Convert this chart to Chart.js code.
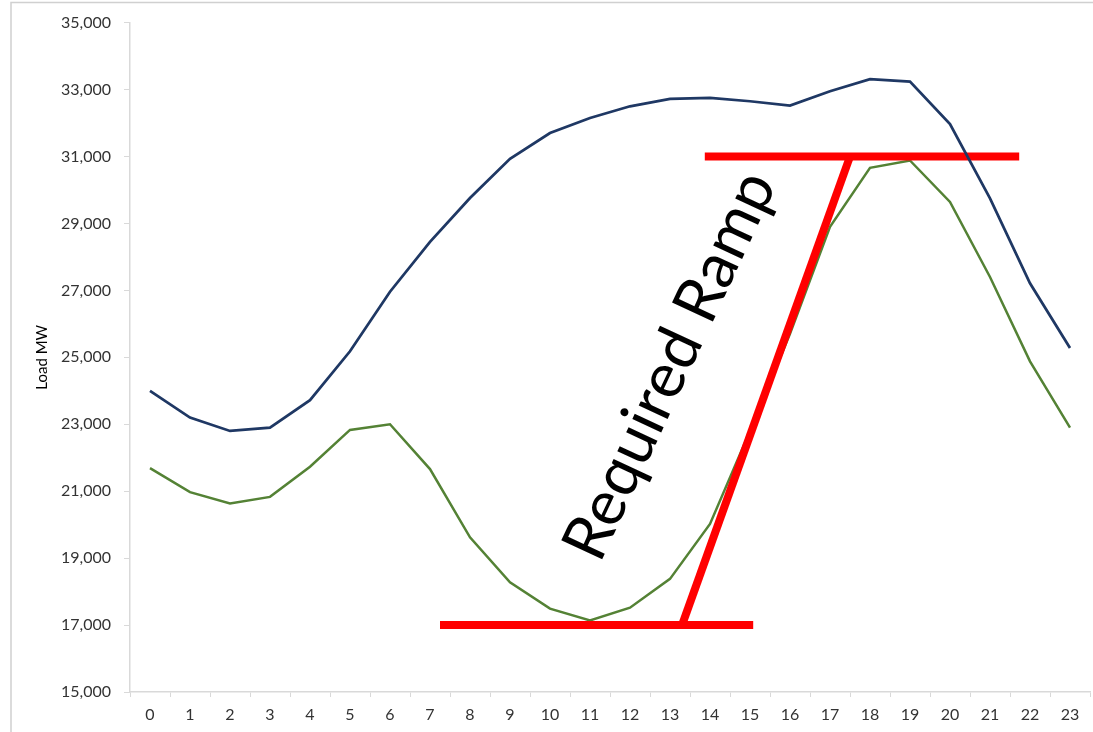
<!DOCTYPE html>
<html>
<head>
<meta charset="utf-8">
<script src="https://cdn.jsdelivr.net/npm/chart.js@4.4.1/dist/chart.umd.min.js"></script>
<style>
  html, body { margin: 0; padding: 0; background: #ffffff; overflow: hidden; }
  #wrap { width: 1093px; height: 732px; position: relative; }
</style>
</head>
<body>
<div id="wrap"><canvas id="c" width="1093" height="732"></canvas></div>
<script>
// Hour-of-day categories
const hours = ['0','1','2','3','4','5','6','7','8','9','10','11','12','13','14','15','16','17','18','19','20','21','22','23'];

// Load axis ticks (MW)
const loadTicks = [15000, 17000, 19000, 21000, 23000, 25000, 27000, 29000, 31000, 33000, 35000];

// Total system load by hour (MW)
const totalLoad = [24000, 23200, 22800, 22900, 23720, 25180, 26960, 28450, 29760, 30930, 31700, 32150,
                   32500, 32720, 32750, 32650, 32520, 32950, 33310, 33240, 31970, 29750, 27210, 25280];

// Net load by hour (MW)
const netLoad = [21690, 20970, 20630, 20830, 21730, 22830, 23000, 21660, 19620, 18280, 17490, 17140,
                 17520, 18380, 20020, 22800, 25700, 28900, 30660, 30880, 29640, 27400, 24880, 22900];

// Ramp marker: floor and ceiling levels and where each bar spans (hour positions)
const rampFloor = 17000;
const rampCeiling = 31000;
const floorSpan = [7.25, 15.08];
const ceilingSpan = [13.87, 21.73];
const rampStart = 13.3;
const rampEnd = 17.5;
const rampLabel = 'Required Ramp';
const rampLabelAt = [13.0, 24750];

const red = '#ff0000';

const frame = {
  id: 'frame',
  beforeDraw(chart) {
    const ctx = chart.ctx;
    ctx.save();
    ctx.strokeStyle = '#d0d0d0';
    ctx.lineWidth = 1.5;
    ctx.beginPath();
    ctx.moveTo(11, 732);
    ctx.lineTo(11, 2.5);
    ctx.lineTo(1093, 2.5);
    ctx.stroke();
    ctx.restore();
  }
};

const rampText = {
  id: 'rampText',
  afterDatasetsDraw(chart) {
    const ctx = chart.ctx;
    const xs = chart.scales.xr, ys = chart.scales.y;
    const px = xs.getPixelForValue(rampLabelAt[0]);
    const py = ys.getPixelForValue(rampLabelAt[1]);
    ctx.save();
    ctx.translate(px, py);
    ctx.rotate(-65 * Math.PI / 180);
    ctx.font = '63px Lato';
    ctx.fillStyle = '#000000';
    ctx.textAlign = 'center';
    ctx.textBaseline = 'middle';
    ctx.fillText(rampLabel, 0, 0);
    ctx.restore();
  }
};

const tickFont = { family: 'Lato', size: 16 };
const tickColor = '#333333';
const axisGrey = '#d9d9d9';

new Chart(document.getElementById('c'), {
  type: 'line',
  data: {
    labels: hours,
    datasets: [
      {
        label: 'Total Load',
        data: totalLoad,
        borderColor: '#1f3864',
        borderWidth: 2.75,
        pointRadius: 0,
        tension: 0,
        xAxisID: 'x'
      },
      {
        label: 'Ramp',
        data: [{ x: rampStart, y: rampFloor }, { x: rampEnd, y: rampCeiling }],
        borderColor: red,
        borderWidth: 8,
        pointRadius: 0,
        borderCapStyle: 'butt',
        xAxisID: 'xr'
      },
      {
        label: 'Floor',
        data: [{ x: floorSpan[0], y: rampFloor }, { x: floorSpan[1], y: rampFloor }],
        borderColor: red,
        borderWidth: 8,
        pointRadius: 0,
        borderCapStyle: 'butt',
        xAxisID: 'xr'
      },
      {
        label: 'Ceiling',
        data: [{ x: ceilingSpan[0], y: rampCeiling }, { x: ceilingSpan[1], y: rampCeiling }],
        borderColor: red,
        borderWidth: 8,
        pointRadius: 0,
        borderCapStyle: 'butt',
        xAxisID: 'xr'
      },
      {
        label: 'Net Load',
        data: netLoad,
        borderColor: '#548235',
        borderWidth: 2.5,
        pointRadius: 0,
        tension: 0,
        xAxisID: 'x'
      }
    ]
  },
  options: {
    responsive: false,
    animation: false,
    layout: { padding: { top: 20, right: 3, left: 0, bottom: 0 } },
    plugins: {
      legend: { display: false },
      tooltip: { enabled: false }
    },
    scales: {
      x: {
        type: 'category',
        offset: true,
        grid: { offset: true, drawOnChartArea: false, drawTicks: true, tickLength: 5, color: axisGrey },
        border: { color: axisGrey, width: 1.5 },
        ticks: { font: tickFont, color: tickColor, padding: 8, maxRotation: 0, autoSkip: false },
        afterFit(s) { s.height = 40; }
      },
      xr: {
        type: 'linear',
        display: false,
        min: -0.5,
        max: 23.5
      },
      y: {
        min: loadTicks[0],
        max: loadTicks[loadTicks.length - 1],
        afterBuildTicks(s) { s.ticks = loadTicks.map(v => ({ value: v })); },
        grid: { drawOnChartArea: false, drawTicks: true, tickLength: 6, color: axisGrey },
        border: { color: axisGrey, width: 1.5 },
        ticks: {
          font: tickFont,
          color: tickColor,
          padding: 13,
          callback: v => Number(v).toLocaleString('en-US')
        },
        title: {
          display: true,
          text: 'Load MW',
          font: { family: 'Lato', size: 15 },
          color: '#000000',
          padding: { top: 33, bottom: 0 }
        },
        afterFit(s) { s.width = 130; }
      }
    }
  },
  plugins: [frame, rampText]
});
</script>
</body>
</html>
